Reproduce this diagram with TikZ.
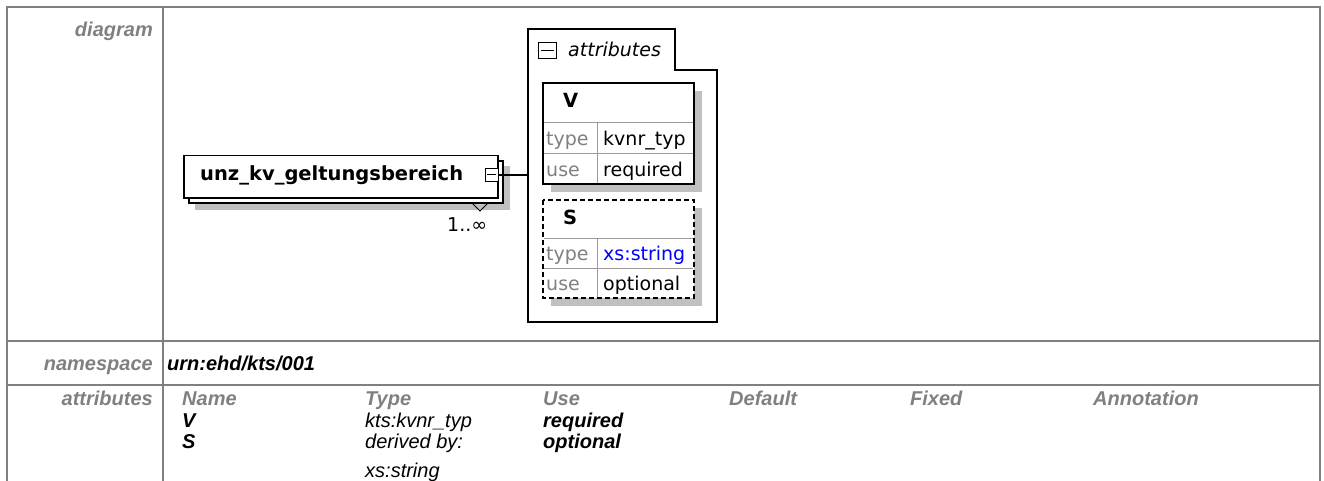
\documentclass[tikz,border=0pt]{standalone}
\usepackage{fontspec}
\setmainfont{Liberation Sans}
\newfontfamily\diafont{DejaVu Sans}
\usepackage{xcolor}
\usetikzlibrary{positioning}
\definecolor{rulegrey}{HTML}{808080}
\definecolor{labelgrey}{HTML}{808080}
\definecolor{cellgrey}{HTML}{9A9A9A}
\definecolor{shadowgrey}{HTML}{C0C0C0}
\definecolor{typeblue}{HTML}{0000FF}
\tikzset{
  rule/.style   ={draw=rulegrey, line width=2pt},
  rowlbl/.style ={font=\fontsize{20}{24}\selectfont\bfseries\itshape, text=labelgrey,
                  inner sep=0pt, anchor=base east},
  colhdr/.style ={font=\fontsize{20}{24}\selectfont\bfseries\itshape, text=labelgrey,
                  inner sep=0pt, anchor=base west},
  val/.style    ={font=\fontsize{20}{24}\selectfont\itshape, inner sep=0pt, anchor=base west},
  bval/.style   ={val, font=\fontsize{20}{24}\selectfont\bfseries\itshape},
  dtext/.style  ={font=\diafont\fontsize{19}{22}\selectfont, inner sep=0pt, anchor=base west},
  dbold/.style  ={dtext, font=\diafont\bfseries\fontsize{19.5}{22}\selectfont},
  dkey/.style   ={dtext, text=labelgrey},
  frame/.style  ={draw=black, line width=1.5pt, fill=white},
  shade/.style  ={fill=shadowgrey, draw=none},
  cell/.style   ={draw=cellgrey, line width=1pt},
  toggle/.style ={draw=black, line width=1pt, fill=white, inner sep=0pt},
  link/.style   ={draw=black, line width=1.5pt},
}

\begin{document}
\begin{tikzpicture}[x=1pt, y=-1pt]
\useasboundingbox (0,0) rectangle (1324,481);

% ---------------------------------------------------------------- table frame
\draw[rule, line join=miter] (7,481) -- (7,7) -- (1320,7) -- (1320,481);
\draw[rule] (163,7) -- (163,481);
\draw[rule] (7,341) -- (1320,341);
\draw[rule] (7,385) -- (1320,385);

\node[rowlbl] (diaglbl) at (153,37)  {diagram};
\node[rowlbl] (nslbl)   at (153,370) {namespace};
\node[rowlbl] (attlbl)  at (153,405) {attributes};
\node[bval]   (nsval)   at (167,370) {urn:ehd/kts/001};

% ---------------------------------------------------------------- attribute table
\foreach \x/\h in {182/Name, 365/Type, 543/Use, 729/Default, 910/Fixed, 1093/Annotation}
  \node[colhdr] (hdr\h) at (\x,405) {\h};

\node[bval] (vrow)  at (182,427) {V};
\node[bval] (srow)  at (182,448) {S};
\node[val]  (vtyp)  at (365,427) {kts:kvnr\_typ};
\node[val]  (styp)  at (365,448) {derived by:};
\node[val]  (sbase) at (365,477) {xs:string};
\node[bval] (vuse)  at (543,427) {required};
\node[bval] (suse)  at (543,448) {optional};

% ---------------------------------------------------------------- element
\fill[shade] (195,166) rectangle (510,210);
\draw[frame] (189,161) rectangle (503,203);
\node[frame, inner sep=0pt, minimum width=314pt, minimum height=42pt, anchor=north west]
  (elem) at (183,155) {};
\node[dbold] (elemname) at (200,181) {unz\_kv\_geltungsbereich};
\node[toggle, minimum size=13pt] (elemtog) at (491.5,175) {};
\draw[line width=1pt] ([xshift=2.5pt]elemtog.west) -- ([xshift=-2.5pt]elemtog.east);
\draw[line width=1pt] (472,203) -- (480,211) -- (488,203);
\node[dtext] (occurs) at (447,231) {1..∞};

% ---------------------------------------------------------------- attribute group
\draw[frame] (528,29) -- (675,29) -- (675,70) -- (717,70) -- (717,322) -- (528,322) -- cycle;
\coordinate (grpin) at (528,175);
\draw[link] (elemtog.east) -- (grpin);
\node[toggle, minimum width=18pt, minimum height=16pt] (grptog) at (547.5,51) {};
\draw[line width=1pt] ([xshift=3pt]grptog.west) -- ([xshift=-3pt]grptog.east);
\node[dtext, font=\diafont\itshape\fontsize{19}{22}\selectfont] (grpname) at (568,57) {attributes};

% V, required
\fill[shade] (551,91) rectangle (702,192);
\draw[frame] (543,83) rectangle (694,184);
\draw[cell] (544,123) -- (693,123);
\draw[cell] (544,154) -- (693,154);
\draw[cell] (597,123) -- (597,183);
\node[dbold] (vname)  at (563,108) {V};
\node[dkey]  (vtkey)  at (546,146) {type};
\node[dtext] (vtval)  at (603,146) {kvnr\_typ};
\node[dkey]  (vukey)  at (546,176) {use};
\node[dtext] (vuval)  at (603,176) {required};

% S, optional
\fill[shade] (551,208) rectangle (702,306);
\draw[frame, dash pattern=on 5pt off 3pt] (543,200) rectangle (694,298);
\draw[cell] (544,238) -- (693,238);
\draw[cell] (544,268) -- (693,268);
\draw[cell] (597,238) -- (597,297);
\node[dbold] (sname)  at (563,224) {S};
\node[dkey]  (stkey)  at (546,260) {type};
\node[dtext, text=typeblue] (stval) at (603,260) {xs:string};
\node[dkey]  (sukey)  at (546,290) {use};
\node[dtext] (suval)  at (603,290) {optional};

\end{tikzpicture}
\end{document}
